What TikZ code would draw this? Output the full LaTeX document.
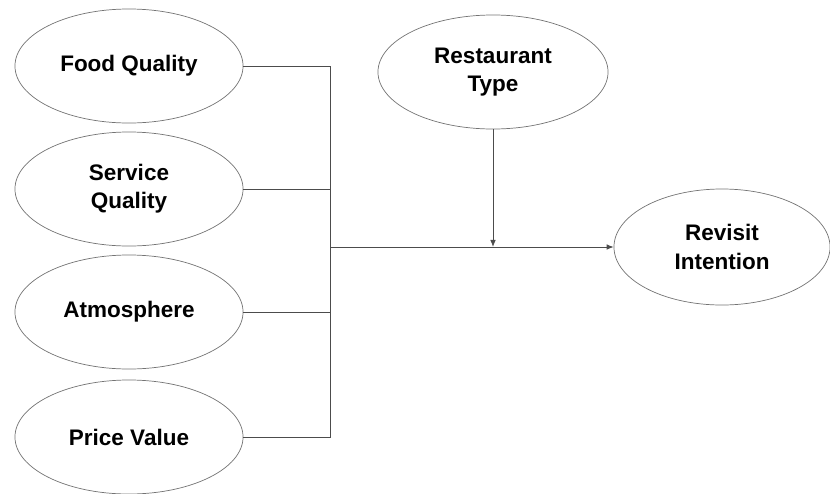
\documentclass[tikz,border=0pt]{standalone}
\usepackage{fontspec}
\setmainfont{Liberation Sans}
\usetikzlibrary{shapes.geometric,arrows.meta}
\tikzset{
  construct/.style={ellipse,draw=black!55,line width=0.5pt,inner sep=0pt,
    minimum width=5.7cm,minimum height=2.85cm,align=center,
    font=\bfseries\fontsize{16}{20}\selectfont},
  link/.style={draw=black!70,line width=0.6pt},
  linkarrow/.style={link,-{Latex[length=5pt,width=4pt]}}
}
\begin{document}
\begin{tikzpicture}[x=0.025cm,y=-0.025cm]
		\useasboundingbox (0,0) rectangle (830,494);
		\node[construct](fq)at(129,66){Food Quality};
		\node[construct](sq)at(129,189){Service\\Quality};
		\node[construct](at)at(129,312){Atmosphere};
		\node[construct](pv)at(129,437){Price Value};
		\node[construct,minimum width=5.75cm](rt)at(493,72){Restaurant\\Type};
		\node[construct,minimum width=5.4cm,minimum height=2.9cm](ri)at(722,247){Revisit\\Intention};
		\coordinate(j)at(330,247);
		% predictors join the bus
		\draw[link](fq.east)-|(j);
		\draw[link](pv.east)-|(j);
		\draw[link](sq.east)--(sq.east-|j);
		\draw[link](at.east)--(at.east-|j);
		\draw[linkarrow](j)--(ri.west);
		% moderator
		\draw[linkarrow](rt.south)--(rt.south|-j);
\end{tikzpicture}
\end{document}
